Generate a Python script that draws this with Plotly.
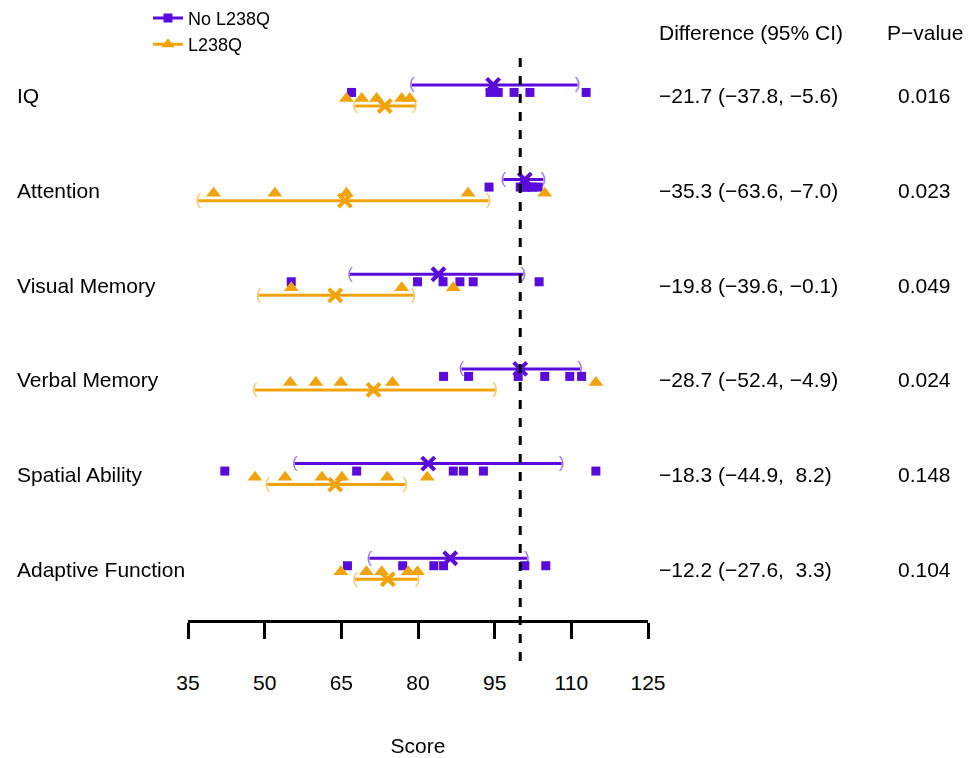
import plotly.graph_objects as go

# ---------------- data ----------------
categories = ["IQ", "Attention", "Visual Memory", "Verbal Memory",
              "Spatial Ability", "Adaptive Function"]

no_points = [
    [67.0, 94.1, 95.7, 98.8, 101.9, 112.9],
    [93.9, 100.0, 100.8, 101.6, 102.4, 103.5],
    [55.2, 79.9, 84.9, 88.2, 90.8, 103.7],
    [85.0, 89.9, 99.6, 104.8, 109.7, 112.0],
    [42.2, 68.0, 86.9, 88.9, 92.8, 114.8],
    [66.2, 77.0, 83.1, 85.0, 100.9, 105.0],
]
l_points = [
    [66.0, 69.0, 71.9, 76.8, 78.4],
    [40.0, 52.0, 66.0, 89.8, 104.8],
    [55.2, 76.8, 86.9],
    [55.0, 60.0, 64.9, 75.0, 114.8],
    [48.1, 54.0, 61.2, 65.1, 74.0, 81.8],
    [64.9, 69.9, 72.9, 78.1, 79.9],
]

no_mean = [94.7, 100.9, 84.0, 100.0, 82.0, 86.3]
no_lo = [78.8, 96.7, 66.7, 88.5, 55.9, 70.5]
no_hi = [111.2, 104.5, 100.6, 111.7, 108.1, 101.3]

l_mean = [73.5, 65.7, 63.8, 71.3, 63.8, 74.1]
l_lo = [67.7, 37.0, 48.8, 48.1, 50.5, 67.7]
l_hi = [79.4, 93.8, 79.1, 95.1, 77.5, 79.9]

diff_text = ["\u221221.7 (\u221237.8, \u22125.6)",
             "\u221235.3 (\u221263.6, \u22127.0)",
             "\u221219.8 (\u221239.6, \u22120.1)",
             "\u221228.7 (\u221252.4, \u22124.9)",
             "\u221218.3 (\u221244.9,\u00a0 8.2)",
             "\u221212.2 (\u221227.6,\u00a0 3.3)"]
p_values = ["0.016", "0.023", "0.049", "0.024", "0.148", "0.104"]

x_ticks = [35, 50, 65, 80, 95, 110, 125]
ref_value = 100
group_names = ["No L238Q", "L238Q"]

# ---------------- style ----------------
PURPLE = "#5A0BDB"
ORANGE = "#F0A30A"
FONT = "Liberation Sans, Arial, sans-serif"
FS = 21

# vertical offsets inside each row (row units)
OFF_NO_CI, OFF_NO_PT, OFF_L_PT, OFF_L_CI, OFF_LAB = 0.0, 0.079, 0.143, 0.222, 0.115


def seg(lo, hi, off):
    xs, ys = [], []
    for i, (a, b) in enumerate(zip(lo, hi)):
        xs += [a, b, None]
        ys += [i + off, i + off, None]
    return xs, ys


def pts(points, off):
    xs, ys = [], []
    for i, row in enumerate(points):
        xs += row
        ys += [i + off] * len(row)
    return xs, ys


fig = go.Figure()

for color, lo, hi, mean, points, off_ci, off_pt, sym, msize in [
    (PURPLE, no_lo, no_hi, no_mean, no_points, OFF_NO_CI, OFF_NO_PT, "square", 9),
    (ORANGE, l_lo, l_hi, l_mean, l_points, OFF_L_CI, OFF_L_PT, "triangle-up", 13),
]:
    xs, ys = seg(lo, hi, off_ci)
    fig.add_trace(go.Scatter(x=xs, y=ys, mode="lines",
                             line=dict(color=color, width=3),
                             showlegend=False, hoverinfo="skip"))
    # bracket ends
    fig.add_trace(go.Scatter(x=lo, y=[i + off_ci for i in range(len(lo))],
                             mode="text", text=["("] * len(lo),
                             textfont=dict(color=color, size=17, family=FONT),
                             opacity=0.6, showlegend=False, hoverinfo="skip"))
    fig.add_trace(go.Scatter(x=hi, y=[i + off_ci for i in range(len(hi))],
                             mode="text", text=[")"] * len(hi),
                             textfont=dict(color=color, size=17, family=FONT),
                             opacity=0.6, showlegend=False, hoverinfo="skip"))
    px, py = pts(points, off_pt)
    fig.add_trace(go.Scatter(x=px, y=py, mode="markers",
                             marker=dict(symbol=sym, size=msize, color=color),
                             showlegend=False))
    fig.add_trace(go.Scatter(x=mean, y=[i + off_ci for i in range(len(mean))],
                             mode="markers",
                             marker=dict(symbol="x-thin", size=13, color=color,
                                         line=dict(color=color, width=4)),
                             showlegend=False))

# legend entries
fig.add_trace(go.Scatter(x=[None], y=[None], mode="lines+markers", name=group_names[0],
                         line=dict(color=PURPLE, width=3),
                         marker=dict(symbol="square", size=9, color=PURPLE)))
fig.add_trace(go.Scatter(x=[None], y=[None], mode="lines+markers", name=group_names[1],
                         line=dict(color=ORANGE, width=3),
                         marker=dict(symbol="triangle-up", size=12, color=ORANGE)))

# reference dashed line
fig.add_shape(type="line", xref="x", yref="y", x0=ref_value, x1=ref_value,
              y0=-0.285, y1=6.106, layer="above",
              line=dict(color="black", width=3, dash="dash"))

annotations = []
for i, cat in enumerate(categories):
    annotations.append(dict(x=-0.376, xref="paper", y=i + OFF_LAB, yref="y",
                            text=cat, showarrow=False, xanchor="left",
                            font=dict(size=FS, color="black", family=FONT)))
    annotations.append(dict(x=1.0196, xref="paper", y=i + OFF_LAB, yref="y",
                            text=diff_text[i], showarrow=False, xanchor="left",
                            font=dict(size=FS, color="black", family=FONT)))
    annotations.append(dict(x=1.602, xref="paper", y=i + OFF_LAB, yref="y",
                            text=p_values[i], showarrow=False, xanchor="center",
                            font=dict(size=FS, color="black", family=FONT)))
annotations.append(dict(x=1.0196, xref="paper", y=-0.549, yref="y",
                        text="Difference (95% CI)", showarrow=False, xanchor="left",
                        font=dict(size=FS, color="black", family=FONT)))
annotations.append(dict(x=1.602, xref="paper", y=-0.549, yref="y",
                        text="P\u2212value", showarrow=False, xanchor="center",
                        font=dict(size=FS, color="black", family=FONT)))

# page body has an 8px margin: figure is 966x750 so that it lands on the same pixels
fig.update_layout(
    width=966, height=750,
    margin=dict(l=180, r=326, t=0, b=0, autoexpand=False),
    paper_bgcolor="white", plot_bgcolor="white",
    font=dict(family=FONT, size=FS, color="black"),
    annotations=annotations,
    legend=dict(x=-0.087, y=1.011, xanchor="left", yanchor="top",
                bgcolor="rgba(0,0,0,0)", font=dict(size=18, family=FONT),
                tracegroupgap=0, itemwidth=30),
    xaxis=dict(range=[35, 125], tickvals=x_ticks, ticktext=[str(t) for t in x_ticks],
               anchor="free", position=0.1831, side="bottom",
               showline=True, linecolor="black", linewidth=3,
               ticks="outside", ticklen=16, tickwidth=3, tickcolor="black",
               ticklabelstandoff=26, showgrid=False, zeroline=False,
               title=dict(text="Score", standoff=45, font=dict(size=FS, family=FONT)),
               tickfont=dict(size=FS, family=FONT)),
    yaxis=dict(range=[7.110, -0.813], visible=False, showgrid=False, zeroline=False),
)

fig.write_html("out.html")
